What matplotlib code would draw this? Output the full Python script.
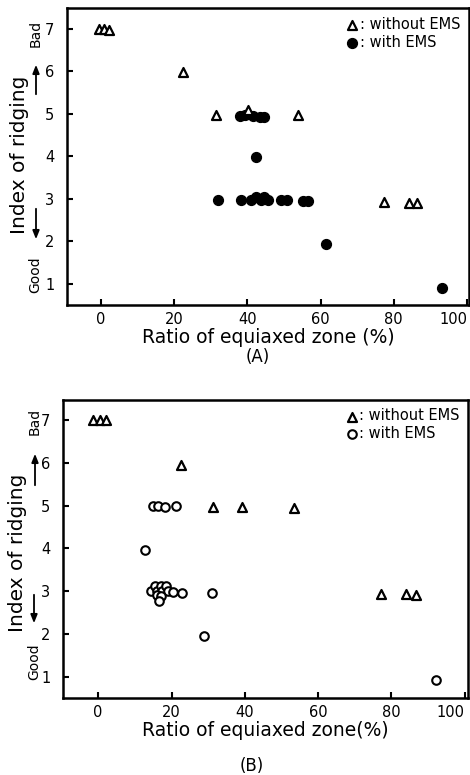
import numpy as np
import matplotlib
matplotlib.use('Agg')
import matplotlib.pyplot as plt

plt.rcParams['font.family'] = ['DejaVu Sans']

# --- Dados (A): ratio of equiaxed zone (%) vs index of ridging ---
a_sem_x = [-0.5, 1.0, 2.3, 22.5, 31.6, 40.2, 53.8, 77.4, 84.2, 86.4]
a_sem_y = [7.0, 7.0, 6.97, 5.98, 4.96, 5.08, 4.96, 2.92, 2.9, 2.9]
a_com_x = [37.9, 39.3, 41.5, 43.4, 44.7,
           42.4,
           32.0, 38.2, 41.1, 42.5, 43.8, 44.6, 45.6, 49.3, 50.8, 55.1, 56.5,
           61.5, 93.2]
a_com_y = [4.95, 4.97, 4.94, 4.93, 4.93,
           3.99,
           2.97, 2.97, 2.98, 3.03, 2.97, 3.04, 2.97, 2.96, 2.96, 2.95, 2.95,
           1.94, 0.9]

# --- Dados (B) ---
b_sem_x = [-1.4, 0.6, 2.1, 22.5, 31.4, 39.1, 53.5, 77.1, 83.9, 86.6]
b_sem_y = [7.0, 7.0, 7.0, 5.96, 4.97, 4.97, 4.95, 2.93, 2.93, 2.9]
b_com_x = [15.0, 16.4, 18.2, 21.2,
           12.7,
           14.5, 15.5, 16.0, 17.0, 17.5, 18.5, 19.0, 20.5, 16.0, 17.0, 16.5,
           22.9, 31.1,
           28.9, 92.1]
b_com_y = [4.98, 4.98, 4.97, 4.99,
           3.95,
           3.0, 3.13, 3.0, 3.13, 3.0, 3.13, 3.0, 2.98, 2.9, 2.88, 2.78,
           2.96, 2.96,
           1.95, 0.92]

xticks = [0, 20, 40, 60, 80, 100]
yticks = [1, 2, 3, 4, 5, 6, 7]

fig = plt.figure(figsize=(4.7, 7.75), dpi=100)
ax_a = fig.add_axes([0.1426, 0.6065, 0.855, 0.383])
ax_b = fig.add_axes([0.134, 0.0994, 0.862, 0.385])


def estilo(ax, xlim, xlabel):
    ax.set_xlim(*xlim)
    ax.set_ylim(0.5, 7.48)
    ax.set_xticks(xticks)
    ax.set_yticks(yticks)
    ax.tick_params(direction='in', length=4, width=1.5, labelsize=10.5, pad=5)
    ax.tick_params(axis='y', pad=9)
    # o "100" encosta na borda direita, como no original
    ax.get_xticklabels()[-1].set_horizontalalignment('right')
    for s in ax.spines.values():
        s.set_linewidth(1.8)
    ax.set_xlabel(xlabel, fontsize=13.5, labelpad=1)


# (A)
ax_a.scatter(a_sem_x, a_sem_y, marker='^', s=42, facecolors='white',
             edgecolors='black', linewidths=1.6, zorder=3, label=': without EMS')
ax_a.scatter(a_com_x, a_com_y, marker='o', s=50, color='black', zorder=2,
             label=': with EMS')
estilo(ax_a, (-9.2, 100.5), 'Ratio of equiaxed zone (%)')
ax_a.legend(loc='upper right', frameon=False, fontsize=10.5, handlelength=0.6,
            handletextpad=0.2, labelspacing=0.2, borderaxespad=0.2,
            scatterpoints=1)

# (B)
ax_b.scatter(b_sem_x, b_sem_y, marker='^', s=42, facecolors='white',
             edgecolors='black', linewidths=1.6, zorder=3, label=': without EMS')
ax_b.scatter(b_com_x, b_com_y, marker='o', s=38, facecolors='white',
             edgecolors='black', linewidths=1.5, zorder=2, label=': with EMS')
estilo(ax_b, (-9.6, 100.9), 'Ratio of equiaxed zone(%)')
ax_b.legend(loc='upper right', frameon=False, fontsize=10.5, handlelength=0.6,
            handletextpad=0.2, labelspacing=0.2, borderaxespad=0.2,
            scatterpoints=1)

# rótulos do eixo y com setas Bad / Good
fig.text(20 / 470, 1 - 155 / 775, 'Index of ridging', rotation=90,
         fontsize=14.5, ha='center', va='center')
fig.text(36 / 470, 1 - 33 / 775, 'Bad', rotation=90, fontsize=10,
         ha='center', va='center')
fig.text(35 / 470, 1 - 275 / 775, 'Good', rotation=90, fontsize=10,
         ha='center', va='center')
fig.text(18 / 470, 1 - 553 / 775, 'Index of ridging', rotation=90,
         fontsize=14.5, ha='center', va='center')
fig.text(35 / 470, 1 - 421 / 775, 'Bad', rotation=90, fontsize=10,
         ha='center', va='center')
fig.text(34 / 470, 1 - 662 / 775, 'Good', rotation=90, fontsize=10,
         ha='center', va='center')

seta = dict(arrowstyle='-|>,head_length=0.5,head_width=0.2', color='black', lw=1.3)
fig.add_artist(matplotlib.patches.FancyArrowPatch(
    (36 / 470, 1 - 97 / 775), (36 / 470, 1 - 62 / 775),
    transform=fig.transFigure, mutation_scale=10, **seta))
fig.add_artist(matplotlib.patches.FancyArrowPatch(
    (36 / 470, 1 - 206 / 775), (36 / 470, 1 - 242 / 775),
    transform=fig.transFigure, mutation_scale=10, **seta))
fig.add_artist(matplotlib.patches.FancyArrowPatch(
    (35 / 470, 1 - 488 / 775), (35 / 470, 1 - 451 / 775),
    transform=fig.transFigure, mutation_scale=10, **seta))
fig.add_artist(matplotlib.patches.FancyArrowPatch(
    (34 / 470, 1 - 592 / 775), (34 / 470, 1 - 626 / 775),
    transform=fig.transFigure, mutation_scale=10, **seta))

fig.text(258 / 470, 1 - 357 / 775, '(A)', fontsize=12, ha='center', va='center')
fig.text(252 / 470, 1 - 766 / 775, '(B)', fontsize=12, ha='center', va='center')

fig.savefig('out.png', dpi=100)
